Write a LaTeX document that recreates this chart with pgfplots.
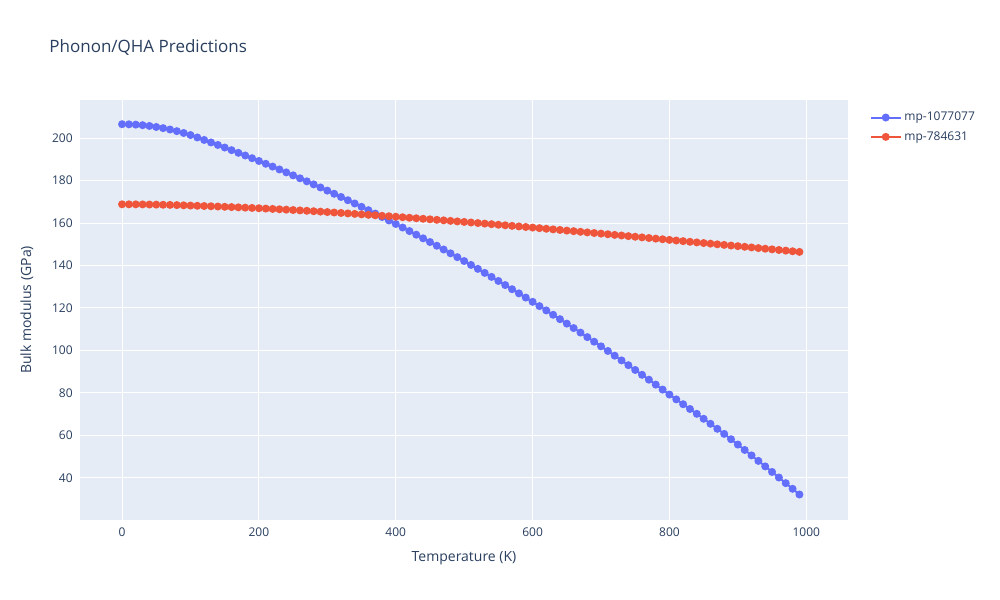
\documentclass[border=0pt]{standalone}
\usepackage{fontspec}
\setmainfont{Open Sans}
\usepackage{pgfplots}
\pgfplotsset{compat=1.18}
\definecolor{bgc}{HTML}{E5ECF6}
\definecolor{txt}{HTML}{2A3F5F}
\definecolor{cblue}{HTML}{636EFA}
\definecolor{cred}{HTML}{EF553B}
\begin{document}
\begin{tikzpicture}[x=1pt,y=1pt]
\path[use as bounding box, fill=white] (0,0) rectangle (750,450);
\begin{axis}[
  at={(60pt,60pt)}, anchor=south west,
  scale only axis, width=576pt, height=315pt,
  xmin=-61.5, xmax=1061, ymin=20.2, ymax=217.9,
  axis background/.style={fill=bgc},
  axis line style={draw=none},
  major tick length=0pt,
  xtick={0,200,400,600,800,1000},
  ytick={40,60,80,100,120,140,160,180,200},
  grid=major, grid style={white, line width=0.75pt},
  /pgf/number format/assume math mode=true,
  /pgf/number format/1000 sep={},
  ticklabel style={font=\fontsize{9}{11}\selectfont, text=txt},
  xticklabel style={yshift=-2pt},
  yticklabel style={xshift=-2pt},
  xlabel={Temperature (K)}, ylabel={Bulk modulus (GPa)},
  label style={font=\fontsize{10.5}{12}\selectfont, text=txt},
  xlabel style={at={(axis description cs:0.5,-0.0914)}, anchor=center},
  ylabel style={at={(axis description cs:-0.069,0.5)}, anchor=center},
  title={Phonon/QHA Predictions},
  title style={at={(axis description cs:-0.046,1.107)}, anchor=west, font=\fontsize{12.75}{15}\selectfont, text=txt},
  legend style={at={(axis description cs:1.028,0.978)}, anchor=north west, draw=none, fill=none,
    font=\fontsize{9}{11}\selectfont, text=txt, row sep=2.5pt, inner sep=0pt,
    cells={anchor=west}},
  legend image code/.code={\draw[mark repeat=2,mark phase=2] plot coordinates {(0pt,0pt) (11.25pt,0pt) (22.5pt,0pt)};},
]
\addplot[cblue, line width=1.5pt, mark=*, mark size=2.2pt, mark options={draw=none, fill=cblue}] coordinates {
(0,206.5)(10,206.45)(20,206.3)(30,206.04)(40,205.68)(50,205.2)(60,204.66)(70,204.0)(80,203.24)(90,202.37)
(100,201.40)(110,200.26)(120,199.10)(130,197.92)(140,196.73)(150,195.52)(160,194.29)(170,193.04)(180,191.78)(190,190.50)
(200,189.20)(210,187.88)(220,186.55)(230,185.20)(240,183.83)(250,182.44)(260,181.04)(270,179.62)(280,178.18)(290,176.72)
(300,175.25)(310,173.76)(320,172.25)(330,170.72)(340,169.18)(350,167.62)(360,166.04)(370,164.44)(380,162.83)(390,161.20)
(400,159.55)(410,157.88)(420,156.20)(430,154.50)(440,152.78)(450,151.04)(460,149.29)(470,147.52)(480,145.73)(490,143.92)
(500,142.10)(510,140.26)(520,138.40)(530,136.52)(540,134.63)(550,132.72)(560,130.79)(570,128.84)(580,126.88)(590,124.90)
(600,122.90)(610,120.88)(620,118.85)(630,116.80)(640,114.73)(650,112.64)(660,110.54)(670,108.42)(680,106.28)(690,104.12)
(700,101.95)(710,99.76)(720,97.55)(730,95.32)(740,93.08)(750,90.82)(760,88.54)(770,86.24)(780,83.93)(790,81.60)
(800,79.25)(810,76.98)(820,74.70)(830,72.45)(840,70.18)(850,67.84)(860,65.49)(870,63.12)(880,60.73)(890,58.22)
(900,55.70)(910,53.16)(920,50.60)(930,48.02)(940,45.43)(950,42.82)(960,40.19)(970,37.54)(980,34.88)(990,32.20)
};
\addlegendentry{mp-1077077}
\addplot[cred, line width=1.5pt, mark=*, mark size=2.2pt, mark options={draw=none, fill=cred}] coordinates {
(0,168.80)(10,168.79)(20,168.78)(30,168.75)(40,168.70)(50,168.65)(60,168.58)(70,168.51)(80,168.42)(90,168.31)
(100,168.20)(110,168.10)(120,167.99)(130,167.88)(140,167.76)(150,167.63)(160,167.50)(170,167.37)(180,167.23)(190,167.09)
(200,166.95)(210,166.79)(220,166.63)(230,166.46)(240,166.29)(250,166.11)(260,165.93)(270,165.74)(280,165.55)(290,165.35)
(300,165.15)(310,164.94)(320,164.73)(330,164.51)(340,164.29)(350,164.07)(360,163.85)(370,163.63)(380,163.40)(390,163.18)
(400,162.95)(410,162.71)(420,162.47)(430,162.23)(440,161.99)(450,161.74)(460,161.49)(470,161.25)(480,161.00)(490,160.75)
(500,160.50)(510,160.24)(520,159.98)(530,159.72)(540,159.45)(550,159.18)(560,158.92)(570,158.65)(580,158.38)(590,158.12)
(600,157.85)(610,157.57)(620,157.29)(630,157.00)(640,156.72)(650,156.43)(660,156.15)(670,155.86)(680,155.57)(690,155.29)
(700,155.00)(710,154.71)(720,154.41)(730,154.12)(740,153.82)(750,153.53)(760,153.23)(770,152.94)(780,152.64)(790,152.35)
(800,152.05)(810,151.75)(820,151.46)(830,151.16)(840,150.87)(850,150.57)(860,150.28)(870,149.98)(880,149.69)(890,149.39)
(900,149.10)(910,148.80)(920,148.50)(930,148.20)(940,147.90)(950,147.60)(960,147.30)(970,147.00)(980,146.70)(990,146.40)
};
\addlegendentry{mp-784631}
\end{axis}
\end{tikzpicture}
\end{document}
